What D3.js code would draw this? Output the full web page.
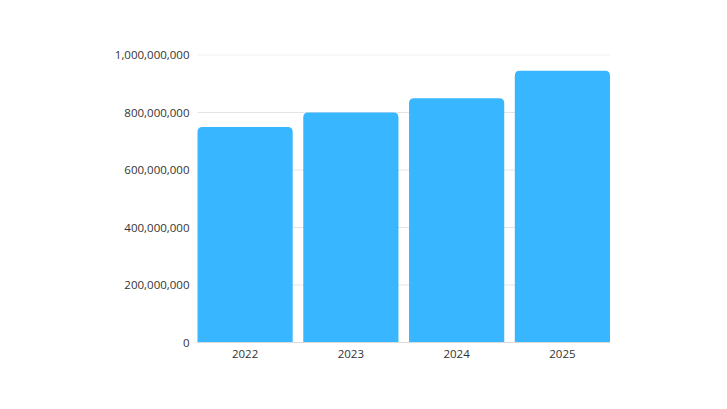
<!DOCTYPE html>
<html><head><meta charset="utf-8">
<script src="https://cdn.jsdelivr.net/npm/d3@7"></script>
<style>body{margin:0;background:#fff;} text{font-family:"Open Sans",sans-serif;}</style>
</head><body>
<svg id="c" width="727" height="409"></svg>
<script>
const categories = ["2022","2023","2024","2025"];
const values = [750000000, 800000000, 850000000, 945000000];
const yTicks = [0, 200000000, 400000000, 600000000, 800000000, 1000000000];

const W = 727, H = 409;
const m = {left: 197.5, right: 117, top: 55, bottom: 66.5};
const svg = d3.select("#c");
const x = d3.scaleBand().domain(categories).range([m.left, W - m.right]).paddingInner(0.1).paddingOuter(0);
const y = d3.scaleLinear().domain([0, 1000000000]).range([H - m.bottom, m.top]);
const fmt = d3.format(",");

// gridlines
svg.append("g").selectAll("line").data(yTicks.filter(d => d > 0)).join("line")
  .attr("x1", m.left).attr("x2", W - m.right)
  .attr("y1", d => y(d)).attr("y2", d => y(d))
  .attr("stroke", d => d === 1000000000 ? "#efefef" : "#e4e4e4").attr("stroke-width", 1);

// bars with rounded top
const r = 5;
svg.append("g").selectAll("path").data(values).join("path")
  .attr("fill", "#38b6ff")
  .attr("d", (d, i) => {
    const x0 = x(categories[i]), x1 = x0 + x.bandwidth(), y0 = y(0), yt = y(d);
    return `M${x0},${y0}V${yt + r}Q${x0},${yt} ${x0 + r},${yt}H${x1 - r}Q${x1},${yt} ${x1},${yt + r}V${y0}Z`;
  });

// bottom axis line
svg.append("line").attr("x1", m.left).attr("x2", W - m.right)
  .attr("y1", y(0)).attr("y2", y(0)).attr("stroke", "#dcdcdc");

// y labels
svg.append("g").selectAll("text").data(yTicks).join("text")
  .attr("x", 189.5).attr("y", d => y(d)).attr("dy", "0.35em")
  .attr("text-anchor", "end").attr("font-size", 11.5).attr("fill", "#333")
  .text(d => fmt(d));

// x labels
svg.append("g").selectAll("text").data(categories).join("text")
  .attr("x", d => x(d) + x.bandwidth() / 2).attr("y", y(0) + 15)
  .attr("text-anchor", "middle").attr("font-size", 11.5).attr("fill", "#333")
  .text(d => d);
</script>
</body></html>
